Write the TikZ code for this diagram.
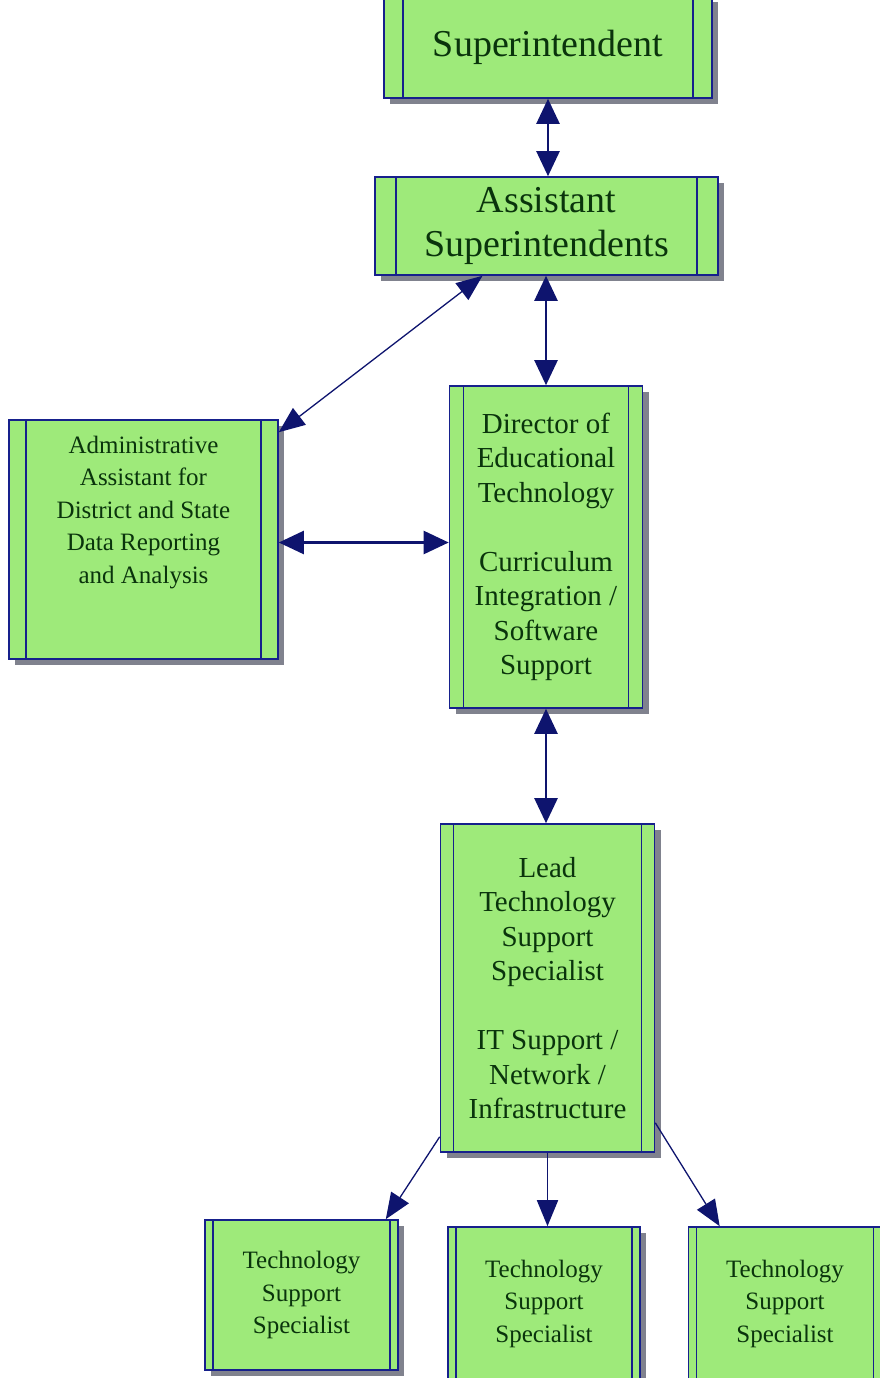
\documentclass[tikz,border=0pt]{standalone}
\usepackage{fontspec}
\setmainfont{Liberation Serif}
\usetikzlibrary{arrows.meta,shadows}
\definecolor{boxgreen}{RGB}{158,234,122}
\definecolor{navyline}{RGB}{22,32,140}
\definecolor{arrownavy}{RGB}{14,20,110}
\definecolor{textgreen}{RGB}{10,52,12}
\definecolor{shadowgray}{RGB}{128,130,142}
\begin{document}
\begin{tikzpicture}[x=1pt,y=-1pt]
	\tikzset{proc/.style={draw=navyline,fill=boxgreen,line width=1.6pt,inner sep=0pt,
	           text=textgreen,align=center,
	           drop shadow={shadow xshift=6pt,shadow yshift=-6pt,fill=shadowgray,opacity=1},
	           path picture={\draw[navyline,line width=1.4pt]
	             ([xshift=#1]path picture bounding box.north west)--([xshift=#1]path picture bounding box.south west)
	             ([xshift=-#1]path picture bounding box.north east)--([xshift=-#1]path picture bounding box.south east);}},
	         big/.style={font=\fontsize{38}{44}\selectfont},
	         mid/.style={font=\fontsize{29}{34.5}\selectfont},
	         small/.style={font=\fontsize{25}{32.5}\selectfont},
	         link/.style={draw=arrownavy,line width=2.4pt,
	           {Triangle[length=25pt,width=23pt]}-{Triangle[length=25pt,width=23pt]}},
	         thinlink/.style={draw=arrownavy,line width=1.3pt,
	           {Triangle[length=26pt,width=21pt]}-{Triangle[length=26pt,width=21pt]}},
	         down/.style={draw=arrownavy,line width=1.8pt,-{Triangle[length=26pt,width=21pt]}},
	         thindown/.style={draw=arrownavy,line width=1.3pt,-{Triangle[length=26pt,width=21pt]}}}
	\useasboundingbox (0,0) rectangle (879,1378);
	\node[proc=19pt,big,minimum width=328pt,minimum height=102pt] (sup) at (548,47) {Superintendent};
	\node[proc=21pt,big,minimum width=343pt,minimum height=98pt] (asst) at (546.5,226) {Assistant\\Superintendents};
	\node[proc=17pt,minimum width=269pt,minimum height=239pt] (admin) at (143.5,539.5) {};
	\node[small,text=textgreen,align=center,anchor=north] (admintxt) at ([yshift=-13pt]admin.north)
	     {Administrative\\Assistant for\\District and State\\Data Reporting\\and Analysis};
	\node[proc=14pt,mid,minimum width=193pt,minimum height=322pt] (dir) at (546,547)
	     {Director of\\Educational\\Technology\\[34.5pt]Curriculum\\Integration /\\Software\\Support};
	\node[proc=13pt,mid,minimum width=214pt,minimum height=328pt] (lead) at (547.5,988)
	     {Lead\\Technology\\Support\\Specialist\\[34.5pt]IT Support /\\Network /\\Infrastructure};
	\node[proc=8pt,small,minimum width=193pt,minimum height=150pt] (tss1) at (301.5,1295) {Technology\\Support\\Specialist};
	\node[proc=8pt,small,minimum width=192pt,minimum height=153pt] (tss2) at (544,1303.5) {Technology\\Support\\Specialist};
	\node[proc=8pt,small,minimum width=193pt,minimum height=153pt] (tss3) at (785,1303.5) {Technology\\Support\\Specialist};
	\draw[link] (sup.south) -- (sup.south |- asst.north);
	\draw[link] (dir.north |- asst.south) -- (dir.north);
	\draw[thinlink] ([xshift=-64pt]asst.south) -- ([yshift=-13pt]admin.north east);
	\draw[link] ([yshift=-3pt]admin.east) -- ([yshift=-3pt]admin.east -| dir.west);
	\draw[link] (dir.south) -- (dir.south |- lead.north);
	\draw[thindown] ([yshift=16pt]lead.south west) -- ([xshift=-13pt]tss1.north east);
	\draw[down] (lead.south) -- (lead.south |- tss2.north);
	\draw[thindown] ([yshift=30pt]lead.south east) -- ([xshift=32pt]tss3.north west);
\end{tikzpicture}
\end{document}
